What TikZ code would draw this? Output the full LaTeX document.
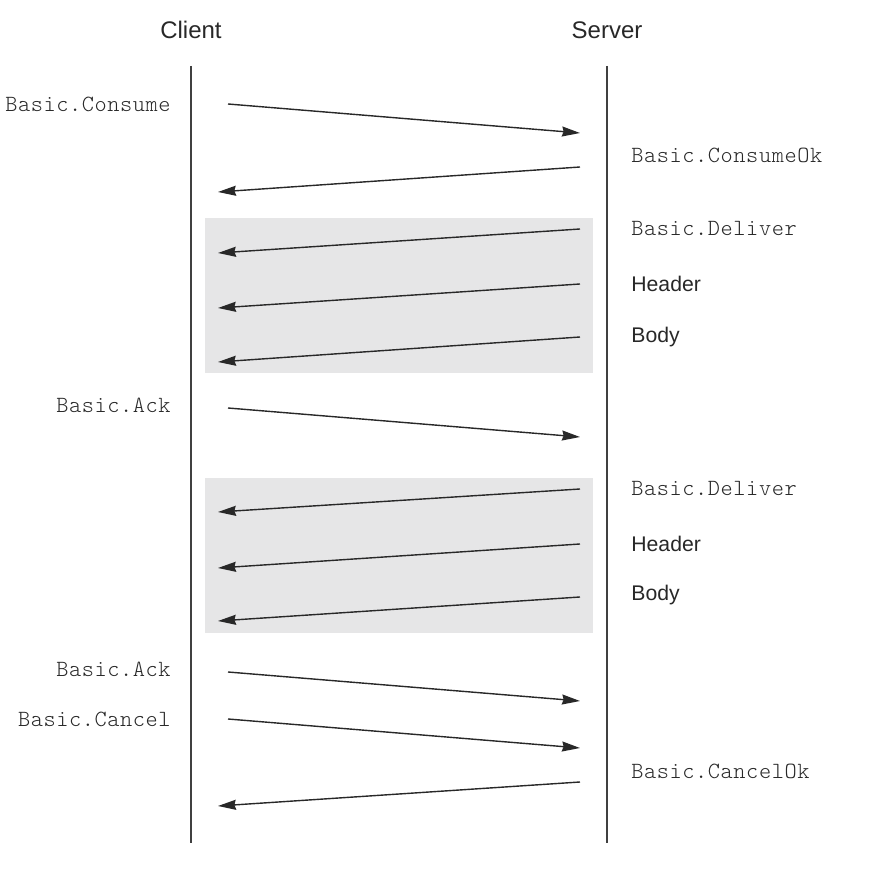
\documentclass[tikz,border=0pt]{standalone}
\usepackage{fontspec}
\setmainfont{Liberation Sans}
\setmonofont{lmmonolt10-regular.otf}[LetterSpace=2.5]
\usetikzlibrary{arrows.meta}

\definecolor{boxgray}{RGB}{230,230,231}
\definecolor{linegray}{RGB}{64,64,64}
\definecolor{inkgray}{RGB}{40,40,40}

\tikzset{
  lifeline/.style={line width=1pt, linegray},
  msg/.style={line width=0.7pt, inkgray, -{Stealth[length=9pt,width=5pt,inset=0.8pt]}},
  batch/.style={fill=boxgray, draw=none},
  party/.style={font=\fontsize{12}{14}\selectfont, text=inkgray, inner sep=0pt, anchor=base},
  cmdleft/.style={font=\fontsize{11.6}{13}\selectfont\ttfamily, text=inkgray, inner sep=0pt, anchor=base east},
  cmdright/.style={font=\fontsize{11.6}{13}\selectfont\ttfamily, text=inkgray, inner sep=0pt, anchor=base west},
  frameright/.style={font=\fontsize{10.6}{12}\selectfont, text=inkgray, inner sep=0pt, anchor=base west},
}

\begin{document}
\begin{tikzpicture}[x=0.5pt, y=-0.5pt]
  \useasboundingbox (0,0) rectangle (890,871);

  % grey batches of deliver / header / body
  \fill[batch] (205,218) rectangle (593,373);
  \fill[batch] (205,478) rectangle (593,633);

  % the two parties
  \node[party] (client) at (191,39) {Client};
  \node[party] (server) at (607,39) {Server};
  \coordinate (client-top) at (191,66);
  \coordinate (client-bot) at (191,843);
  \coordinate (server-top) at (607,66);
  \coordinate (server-bot) at (607,843);
  \draw[lifeline] (client-top) -- (client-bot);
  \draw[lifeline] (server-top) -- (server-bot);

  % client -> server
  \foreach \n/\ya/\yb/\txt/\yt in {consume/104/133/Basic.Consume/112,
                                   ack/408/437/Basic.Ack/413,
                                   acktwo/672/701/Basic.Ack/677,
                                   cancel/719/748/Basic.Cancel/727} {
    \node[cmdleft] (l-\n) at (171,\yt) {\txt};
    \coordinate (s-\n) at (228,\ya);
    \coordinate (e-\n) at (580,\yb);
    \draw[msg] (s-\n) -- (e-\n);
  }

  % server -> client
  \foreach \n/\ya/\yb/\yt in {consumeok/167/192/163, deliver/229/253/236,
                              header/284/308/292, body/337/362/343,
                              delivertwo/489/512/496, headertwo/544/568/552,
                              bodytwo/597/621/601, cancelok/782/806/778} {
    \coordinate (s-\n) at (580,\ya);
    \coordinate (e-\n) at (218,\yb);
    \draw[msg] (s-\n) -- (e-\n);
  }

  \node[cmdright] (l-consumeok) at (631,163) {Basic.ConsumeOk};
  \node[cmdright] (l-deliver) at (631,236) {Basic.Deliver};
  \node[frameright] (l-header) at (631,292) {Header};
  \node[frameright] (l-body) at (631,343) {Body};
  \node[cmdright] (l-delivertwo) at (631,496) {Basic.Deliver};
  \node[frameright] (l-headertwo) at (631,552) {Header};
  \node[frameright] (l-bodytwo) at (631,601) {Body};
  \node[cmdright] (l-cancelok) at (631,778) {Basic.CancelOk};
\end{tikzpicture}
\end{document}
